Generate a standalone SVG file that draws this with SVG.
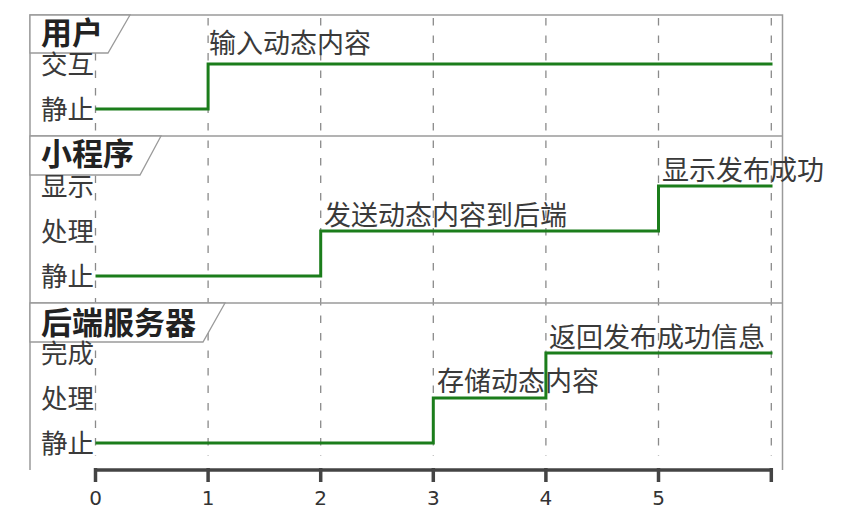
<svg xmlns="http://www.w3.org/2000/svg" width="841" height="519" viewBox="0 0 841 519">
<style>
text{font-family:"DejaVu Sans","Noto Sans CJK SC",sans-serif;fill:#3a3a3a}
.hdr{font-size:31px;font-weight:bold;fill:#222}
.st{font-size:26.5px;text-anchor:end}
.msg{font-size:27px}
.tk{font-size:20px;text-anchor:middle;fill:#333}
.frame{stroke:#9a9a9a;stroke-width:1.5;fill:none}
.hbox{stroke:#9a9a9a;stroke-width:1.3;fill:#fff}
.grid{stroke:#8a8a8a;stroke-width:1.3;stroke-dasharray:7.5 10}
.wave{stroke:#1b7d1b;stroke-width:3;fill:none;stroke-linejoin:miter}
.axis{stroke:#444;stroke-width:3.5;fill:none}
</style>
<rect width="841" height="519" fill="#fff"/>
<g id="grid">
<line class="grid" x1="95.5" y1="18" x2="95.5" y2="456"/>
<line class="grid" x1="208.1" y1="18" x2="208.1" y2="456"/>
<line class="grid" x1="320.7" y1="18" x2="320.7" y2="456"/>
<line class="grid" x1="433.3" y1="18" x2="433.3" y2="456"/>
<line class="grid" x1="545.9" y1="18" x2="545.9" y2="456"/>
<line class="grid" x1="658.5" y1="18" x2="658.5" y2="456"/>
<line class="grid" x1="771.3" y1="18" x2="771.3" y2="456"/>
</g>
<g id="frame">
<polyline class="frame" points="30,470 30,15 782.5,15 782.5,470"/>
<line class="frame" x1="30" y1="136" x2="782.5" y2="136"/>
<line class="frame" x1="30" y1="303" x2="782.5" y2="303"/>
</g>
<g id="lane-user">
<polygon class="hbox" points="30,15 130,15 108,53 30,53"/>
<text class="hdr" x="41" y="44">用户</text>
<text class="st" x="94" y="74">交互</text>
<text class="st" x="94" y="119">静止</text>
</g>
<g id="lane-miniprogram">
<polygon class="hbox" points="30,136 161,136 140,175 30,175"/>
<text class="hdr" x="41" y="165">小程序</text>
<text class="st" x="94" y="196">显示</text>
<text class="st" x="94" y="241">处理</text>
<text class="st" x="94" y="286">静止</text>
</g>
<g id="lane-server">
<polygon class="hbox" points="30,303 225,303 203,342 30,342"/>
<text class="hdr" x="41" y="334">后端服务器</text>
<text class="st" x="94" y="363">完成</text>
<text class="st" x="94" y="408">处理</text>
<text class="st" x="94" y="453">静止</text>
</g>
<g id="connectors">
<polyline class="wave" points="95.5,109 208.1,109 208.1,64 772.5,64"/>
<polyline class="wave" points="95.5,276 320.7,276 320.7,231 658.5,231 658.5,186 772.5,186"/>
<polyline class="wave" points="95.5,443 433.3,443 433.3,398 545.9,398 545.9,353 772.5,353"/>
</g>
<g id="messages">
<text class="msg" x="209" y="53">输入动态内容</text>
<text class="msg" x="324" y="225">发送动态内容到后端</text>
<text class="msg" x="662" y="180">显示发布成功</text>
<text class="msg" x="437" y="391">存储动态内容</text>
<text class="msg" x="549" y="347">返回发布成功信息</text>
</g>
<g id="axis">
<line class="axis" x1="95.5" y1="470" x2="771.3" y2="470"/>
<line class="axis" x1="95.5" y1="468" x2="95.5" y2="482"/>
<line class="axis" x1="208.1" y1="468" x2="208.1" y2="482"/>
<line class="axis" x1="320.7" y1="468" x2="320.7" y2="482"/>
<line class="axis" x1="433.3" y1="468" x2="433.3" y2="482"/>
<line class="axis" x1="545.9" y1="468" x2="545.9" y2="482"/>
<line class="axis" x1="658.5" y1="468" x2="658.5" y2="482"/>
<line class="axis" x1="771.3" y1="468" x2="771.3" y2="482"/>
<text class="tk" x="95.5" y="505">0</text>
<text class="tk" x="208.1" y="505">1</text>
<text class="tk" x="320.7" y="505">2</text>
<text class="tk" x="433.3" y="505">3</text>
<text class="tk" x="545.9" y="505">4</text>
<text class="tk" x="658.5" y="505">5</text>
</g>
</svg>
